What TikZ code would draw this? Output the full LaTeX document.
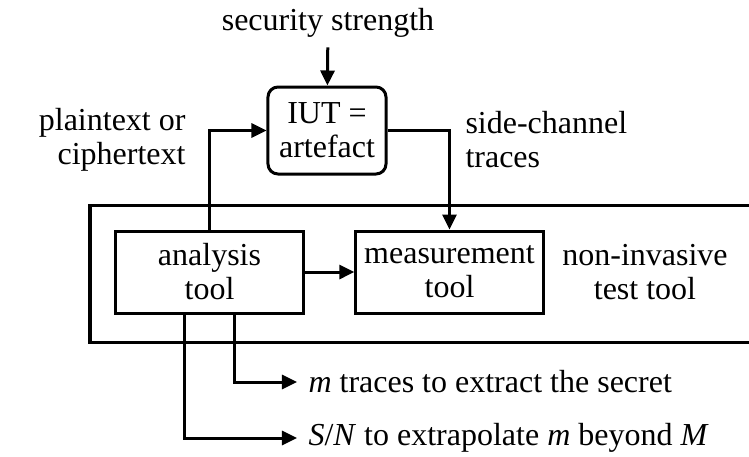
\documentclass[tikz,border=0pt]{standalone}
\usepackage{fontspec}
\setmainfont{Liberation Serif}
\usetikzlibrary{arrows.meta}

\tikzset{
  toolbox/.style={draw, minimum width=74.8pt, minimum height=32.8pt, align=center},
  note/.style={inner sep=4pt},
}

\begin{document}
\begin{tikzpicture}[x=0.4pt, y=-0.4pt, line width=1.2pt,
    >={Triangle[length=6pt,width=5.6pt]},
    font=\fontsize{12.8}{13.6}\selectfont]
  \useasboundingbox (0,0) rectangle (749,456);

  \node (sec) at (328,23) {security strength};
  \node[toolbox, rounded corners=4pt, minimum width=47.2pt, minimum height=34.8pt] (iut) at (327,130.5) {IUT =\\artefact};
  \node[note, anchor=east, align=right] (plain) at (197,140) {plaintext or\\ciphertext};
  \node[note, anchor=west, align=left] (trace) at (454,140) {side-channel\\traces};

  % test tool frame, open to the right
  \coordinate (frameA) at (749,205);
  \coordinate (frameB) at (749,342);
  \draw (frameA) -| (90,342) -- (frameB);

  \node[toolbox] (ana) at (209.5,272) {analysis\\tool};
  \node[toolbox] (meas) at (449.5,272) {measurement\\tool};
  \node[align=center] (nit) at (645,272) {non-invasive\\test tool};

  \node[note, anchor=west] (mtr) at (297,382) {\textit{m} traces to extract the secret};
  \node[note, anchor=west] (snr) at (297,438) {\textit{S}/\textit{N} to extrapolate \textit{m} beyond \textit{M}};

  \draw[->] (sec) -- (iut);
  \draw[->] (ana) |- (iut);
  \draw[->] (iut) -| (meas);
  \draw[->] (ana) -- (meas);
  \draw[->] ([xshift=9.8pt]ana.south) |- (mtr);
  \draw[->] ([xshift=-9.8pt]ana.south) |- (snr);
\end{tikzpicture}
\end{document}
